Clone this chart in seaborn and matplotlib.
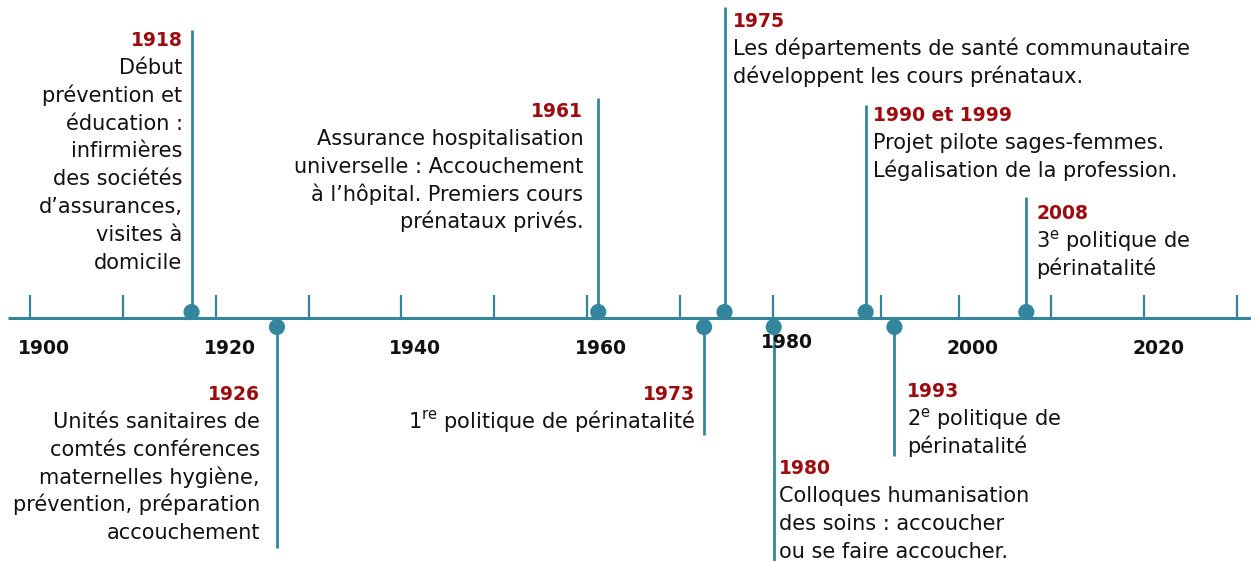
import matplotlib
matplotlib.use("Agg")
import matplotlib.pyplot as plt
import seaborn as sns
import pandas as pd

event_labels = ["1918", "1926", "1961", "1973", "1975", "1980",
                "1990 et 1999", "1993", "2008"]
# where the dots sit on the axis (years, as drawn)
event_pos = [1917.4, 1926.6, 1961.2, 1972.6, 1974.8, 1980.1, 1990.0, 1993.1, 2007.3]
event_text = [
    ["Début", "prévention et", "éducation :", "infirmières", "des sociétés",
     "d’assurances,", "visites à", "domicile"],
    ["Unités sanitaires de", "comtés conférences", "maternelles hygiène,",
     "prévention, préparation", "accouchement"],
    ["Assurance hospitalisation", "universelle : Accouchement",
     "à l’hôpital. Premiers cours", "prénataux privés."],
    [r"1$^{\rm re}$ politique de périnatalité"],
    ["Les départements de santé communautaire", "développent les cours prénataux."],
    ["Colloques humanisation", "des soins : accoucher", "ou se faire accoucher."],
    ["Projet pilote sages-femmes.", "Légalisation de la profession."],
    [r"2$^{\rm e}$ politique de", "périnatalité"],
    [r"3$^{\rm e}$ politique de", "périnatalité"],
]
tick_years = [1900, 1910, 1920, 1930, 1940, 1950, 1960, 1970, 1980, 1991.7,
              2000, 2010, 2020, 2030]
tick_labels = ["1900", "1920", "1940", "1960", "1980", "2000", "2020"]
tick_label_years = [1900, 1920, 1940, 1960, 1980, 2000, 2020]

# --- layout (pixel units, y measured from top) ---
side = ["up", "down", "up", "down", "up", "down", "up", "down", "up"]
stem_end = [30, 548, 98, 435, 7, 561, 105, 456, 197]
text_dx = [-9, -17, -15, -9, 8, 5, 7, 13, 10]
year_base = [46, 400, 117, 400, 27, 474, 121, 397, 219]
label_base = [354, 354, 354, 354, 348, 354, 354]

TEAL = "#34869e"
RED = "#9e0b0f"
W, H = 1251, 561
PX_PER_YEAR = 9.285
X0 = 1900 - 30 / PX_PER_YEAR
LINE_Y, UP_Y, DOWN_Y = 318, 312, 327
PITCH = 27.8

sns.set_style("white")
plt.rcParams["font.family"] = ["DejaVu Sans"]
plt.rcParams["mathtext.fontset"] = "dejavusans"

fig = plt.figure(figsize=(W / 100, H / 100), dpi=100)
ax = fig.add_axes([0, 0, 1, 1])
ax.set_xlim(X0, X0 + W / PX_PER_YEAR)
ax.set_ylim(H, 0)
ax.axis("off")

# main axis line and ticks
ax.hlines(LINE_Y, X0 + 8 / PX_PER_YEAR, X0 + W / PX_PER_YEAR, color=TEAL, lw=2.2)
ax.vlines(tick_years, 295, LINE_Y, color=TEAL, lw=1.6)
for yr, lab, yb in zip(tick_label_years, tick_labels, label_base):
    ax.text(yr + 1.5, yb, lab, ha="center", va="baseline", fontsize=13.5,
            fontweight="bold", color="#111111")

# stems
for x, s, e in zip(event_pos, side, stem_end):
    y0 = UP_Y if s == "up" else DOWN_Y
    ax.vlines(x, min(y0, e), max(y0, e), color=TEAL, lw=2, zorder=2)

# dots
df = pd.DataFrame({"x": event_pos,
                   "y": [UP_Y if s == "up" else DOWN_Y for s in side]})
sns.scatterplot(data=df, x="x", y="y", s=135, color=TEAL, edgecolor="none",
                ax=ax, zorder=3, legend=False)
ax.set_xlabel("")
ax.set_ylabel("")

# event texts
for x, lab, lines, dx, yb in zip(event_pos, event_labels, event_text, text_dx, year_base):
    tx = x + dx / PX_PER_YEAR
    ha = "right" if dx < 0 else "left"
    ax.text(tx, yb, lab, ha=ha, va="baseline", fontsize=13.5,
            fontweight="bold", color=RED)
    for i, line in enumerate(lines):
        ax.text(tx, yb + 28 + i * PITCH, line, ha=ha, va="baseline",
                fontsize=15, color="#111111")

fig.savefig("out.png", dpi=100)
